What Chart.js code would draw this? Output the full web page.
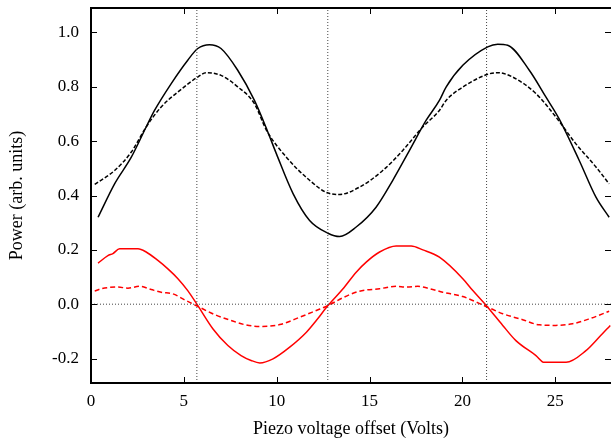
<!DOCTYPE html>
<html lang="en">
<head>
<meta charset="UTF-8" />
<title>Piezo voltage offset</title>
<script src="https://cdn.jsdelivr.net/npm/chart.js"></script>
<style>
  body { margin: 0; background: #fff; }
  #wrap { width: 611px; height: 441px; }
</style>
</head>
<body>
<div id="wrap"><canvas id="chart" width="611" height="441"></canvas></div>
<script>
// black solid curve
const blackSolidX = [0.38, 1.27, 2.17, 2.97, 3.42, 4.32, 5.21, 5.75, 6.38, 7.0, 7.9, 8.8, 9.52, 9.98, 10.88, 11.77, 12.76, 13.39, 14.28, 15.35, 16.25, 17.15, 18.05, 18.76, 19.12, 20.02, 21.36, 21.9, 22.44, 23.6, 24.5, 25.2, 26.29, 27.19, 27.9];
const blackSolidY = [0.32, 0.443, 0.541, 0.652, 0.713, 0.812, 0.898, 0.941, 0.955, 0.941, 0.861, 0.75, 0.634, 0.554, 0.407, 0.308, 0.261, 0.249, 0.284, 0.357, 0.456, 0.566, 0.677, 0.75, 0.799, 0.879, 0.947, 0.957, 0.953, 0.861, 0.762, 0.683, 0.529, 0.394, 0.32];
// black dashed curve
const blackDashX = [0.2, 1.27, 2.17, 2.97, 3.78, 4.68, 5.75, 6.2, 7.0, 7.9, 8.8, 9.45, 10.52, 11.77, 12.76, 13.39, 14.46, 15.71, 16.79, 17.86, 18.76, 19.12, 20.02, 21.36, 21.9, 22.7, 23.96, 25.03, 26.1, 27.19, 27.9];
const blackDashY = [0.441, 0.492, 0.56, 0.652, 0.726, 0.781, 0.836, 0.852, 0.842, 0.8, 0.738, 0.64, 0.541, 0.456, 0.409, 0.404, 0.431, 0.492, 0.566, 0.652, 0.713, 0.75, 0.799, 0.846, 0.852, 0.836, 0.775, 0.689, 0.591, 0.505, 0.443];
// red solid curve
const redSolidX = [0.38, 0.91, 1.18, 1.54, 2.53, 2.97, 3.6, 4.14, 4.68, 5.21, 5.75, 6.57, 7.37, 8.08, 8.62, 9.09, 9.8, 10.7, 11.6, 12.13, 12.76, 13.57, 14.28, 14.82, 15.54, 16.43, 17.24, 17.87, 18.76, 20.02, 20.56, 21.36, 22.17, 22.88, 23.96, 24.4, 25.58, 26.65, 27.37, 27.96];
const redSolidY = [0.151, 0.179, 0.186, 0.204, 0.204, 0.192, 0.161, 0.13, 0.094, 0.05, -0.005, -0.091, -0.152, -0.189, -0.207, -0.216, -0.201, -0.158, -0.103, -0.06, -0.005, 0.057, 0.118, 0.155, 0.192, 0.214, 0.214, 0.2, 0.173, 0.094, 0.05, -0.011, -0.078, -0.134, -0.189, -0.214, -0.214, -0.171, -0.121, -0.078];
// red dashed curve
const redDashX = [0.2, 0.55, 1.45, 1.99, 2.62, 3.24, 3.78, 4.41, 5.04, 5.75, 6.65, 7.54, 8.26, 9.09, 10.16, 11.24, 12.13, 12.76, 13.57, 14.46, 15.54, 16.43, 16.97, 17.6, 18.23, 18.94, 20.02, 21.36, 22.17, 23.24, 24.14, 25.03, 25.93, 26.83, 27.9];
const redDashY = [0.048, 0.057, 0.063, 0.059, 0.066, 0.054, 0.044, 0.038, 0.016, -0.008, -0.038, -0.06, -0.075, -0.082, -0.075, -0.048, -0.023, -0.005, 0.024, 0.048, 0.057, 0.066, 0.063, 0.066, 0.057, 0.044, 0.028, -0.011, -0.035, -0.057, -0.076, -0.078, -0.072, -0.054, -0.026];

const vLines = [5.7, 12.75, 21.3];
const xTicks = [0, 5, 10, 15, 20, 25];
const yTicks = [-0.2, 0.0, 0.2, 0.4, 0.6, 0.8, 1.0];
const xMin = 0, xMax = 28, yMin = -0.29, yMax = 1.09;

const zip = (xs, ys) => xs.map((x, i) => ({ x: x, y: ys[i] }));

const datasets = [];
vLines.forEach(v => {
  datasets.push({ data: [{ x: v, y: yMin }, { x: v, y: yMax }], borderColor: "#444", borderWidth: 1, borderDash: [1, 2] });
});
datasets.push({ data: [{ x: xMin, y: 0 }, { x: xMax, y: 0 }], borderColor: "#444", borderWidth: 1, borderDash: [1, 2] });
datasets.push({ data: zip(blackSolidX, blackSolidY), borderColor: "#000", borderWidth: 1.5, cubicInterpolationMode: "monotone" });
datasets.push({ data: zip(blackDashX, blackDashY), borderColor: "#000", borderWidth: 1.5, borderDash: [4, 2], cubicInterpolationMode: "monotone" });
datasets.push({ data: zip(redSolidX, redSolidY), borderColor: "#ff0000", borderWidth: 1.5, cubicInterpolationMode: "monotone" });
datasets.push({ data: zip(redDashX, redDashY), borderColor: "#ff0000", borderWidth: 1.5, borderDash: [5, 3], cubicInterpolationMode: "monotone" });

// gnuplot style frame with inward ticks
const framePlugin = {
  id: "frame",
  afterDraw(chart) {
    const ctx = chart.ctx;
    const a = chart.chartArea;
    const xs = chart.scales.x, ys = chart.scales.y;
    ctx.save();
    ctx.strokeStyle = "#000";
    ctx.lineWidth = 1;
    ctx.beginPath();
    xTicks.forEach(t => {
      const px = Math.round(xs.getPixelForValue(t)) + 0.5;
      ctx.moveTo(px, a.bottom); ctx.lineTo(px, a.bottom - 6);
      ctx.moveTo(px, a.top); ctx.lineTo(px, a.top + 6);
    });
    yTicks.forEach(t => {
      const py = Math.round(ys.getPixelForValue(t)) + 0.5;
      ctx.moveTo(a.left, py); ctx.lineTo(a.left + 6, py);
      ctx.moveTo(a.right, py); ctx.lineTo(a.right - 6, py);
    });
    ctx.stroke();
    ctx.lineWidth = 2;
    ctx.beginPath();
    ctx.moveTo(a.right + 2, a.top); ctx.lineTo(a.left, a.top);
    ctx.lineTo(a.left, a.bottom); ctx.lineTo(a.right + 2, a.bottom);
    ctx.stroke();
    ctx.restore();
  }
};

const tickFont = { family: "'Liberation Serif', 'DejaVu Serif', serif", size: 17 };
const titleFont = { family: "'Liberation Serif', 'DejaVu Serif', serif", size: 18 };

new Chart(document.getElementById("chart"), {
  type: "line",
  data: { datasets: datasets },
  options: {
    responsive: false,
    animation: false,
    layout: { padding: { top: 8, right: 0, left: 0, bottom: 0 } },
    elements: { point: { radius: 0 }, line: { fill: false } },
    plugins: { legend: { display: false }, tooltip: { enabled: false } },
    scales: {
      x: {
        type: "linear", min: xMin, max: xMax,
        grid: { display: false, drawTicks: false },
        border: { display: false },
        afterFit: s => { s.height = 58; s.paddingLeft = 0; s.paddingRight = 0; },
        afterBuildTicks: s => { s.ticks = xTicks.map(v => ({ value: v })); },
        ticks: { color: "#000", font: tickFont, padding: 8, maxRotation: 0, callback: v => String(v) },
        title: { display: true, text: "Piezo voltage offset (Volts)", color: "#000", font: titleFont, padding: { top: 0, bottom: 1 } }
      },
      y: {
        type: "linear", min: yMin, max: yMax,
        grid: { display: false, drawTicks: false },
        border: { display: false },
        afterFit: s => { s.width = 91; s.paddingTop = 0; s.paddingBottom = 0; },
        afterBuildTicks: s => { s.ticks = yTicks.map(v => ({ value: v })); },
        ticks: { color: "#000", font: tickFont, padding: 12, callback: v => v.toFixed(1) },
        title: { display: true, text: "Power (arb. units)", color: "#000", font: titleFont, padding: { top: 6, bottom: 0 } }
      }
    }
  },
  plugins: [framePlugin]
});
</script>
</body>
</html>
